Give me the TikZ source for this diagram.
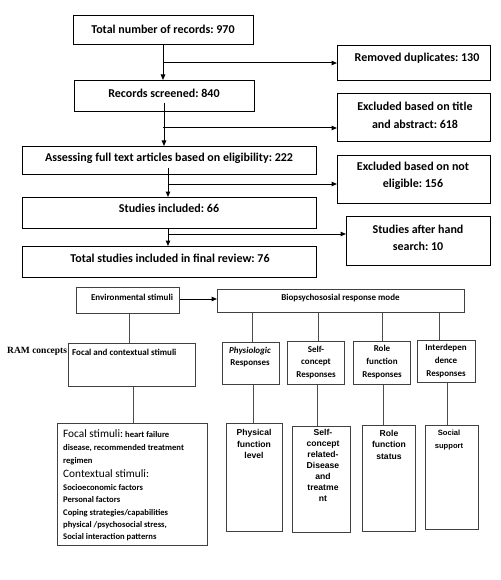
\documentclass[tikz,border=0pt]{standalone}
\usepackage{fontspec}
\setmainfont{Carlito}
\newfontfamily\arialf{Liberation Sans}
\newfontfamily\timesf{Liberation Serif}
\newcommand\fbigx{\fontsize{11.3}{12}\selectfont\mdseries}
\usetikzlibrary{arrows.meta,shadows}
\frenchspacing
\begin{document}
\begin{tikzpicture}[x=1pt,y=-1pt,
  box/.style={draw=black, line width=1pt, rectangle, inner sep=0pt, anchor=north west},
  rbox/.style={draw=black!75, line width=0.8pt, fill=white, rectangle, inner sep=0pt, anchor=north west,
     drop shadow={shadow xshift=1pt,shadow yshift=-1pt,fill=black!30,opacity=1}},
  ttop/.style={font=\fontsize{12}{17.5}\selectfont\bfseries, inner sep=0pt, align=center},
  tlow/.style={font=\fontsize{9}{12.7}\selectfont\bfseries, inner sep=0pt, align=center},
  tar/.style={font=\arialf\fontsize{8.6}{11.5}\selectfont\bfseries, inner sep=0pt, align=center},
  tfs/.style={font=\fontsize{8.6}{12}\selectfont\bfseries, inner sep=0pt, anchor=base west},
  arr/.style={draw=black, line width=1pt, -{Triangle[length=5.5pt,width=4.5pt]}},
  lnl/.style={draw=black!70, line width=0.9pt},
]
\useasboundingbox[fill=white] (0,0) rectangle (500,580);

% ---------- top flow ----------
\node[box, minimum width=180pt, minimum height=29pt] (a1) at (73,15) {};
\node[ttop] (a1t) at (163,29) {Total number of records: 970};
\node[box, minimum width=153pt, minimum height=35pt] (d1) at (337,45) {};
\node[ttop] (d1t) at (417,58) {Removed duplicates: 130};
\node[box, minimum width=180pt, minimum height=31pt] (rs) at (74,80) {};
\node[ttop] (rst) at (164,93) {Records screened: 840};
\node[box, minimum width=153pt, minimum height=48pt] (e1) at (337,93) {};
\node[ttop] (e1t) at (415,115.5) {Excluded based on title\\and abstract: 618};
\node[box, minimum width=294pt, minimum height=28pt] (as) at (22,146) {};
\node[ttop] (ast) at (169,158) {Assessing full text articles based on eligibility: 222};
\node[box, minimum width=153pt, minimum height=48pt] (e2) at (337,155) {};
\node[ttop] (e2t) at (413,176) {Excluded based on not\\eligible: 156};
\node[box, minimum width=294pt, minimum height=31pt] (si) at (22,197) {};
\node[ttop] (sit) at (169,208) {Studies included: 66};
\node[box, minimum width=144pt, minimum height=49pt] (hs) at (346,216) {};
\node[ttop] (hst) at (418,238) {Studies after hand\\search: 10};
\node[box, minimum width=294pt, minimum height=31pt] (tf) at (22,246) {};
\node[ttop] (tft) at (170,258) {Total studies included in final review: 76};

\coordinate (j1) at (163,63);
\coordinate (j2) at (163,128);
\coordinate (j3) at (168,184);
\coordinate (j4) at (168,234);
\coordinate (s2) at (164,103);
\coordinate (s3) at (168,168);

\draw[arr] (a1.south -| j1) -- (rs.north -| j1);
\draw[arr] (j1) -- (j1 -| d1.west);
\draw[arr] (s2) -- (as.north -| s2);
\draw[arr] (j2) -- (j2 -| e1.west);
\draw[arr] (s3) -- (si.north -| s3);
\draw[arr] (j3) -- (j3 -| e2.west);
\draw[arr] (si.south -| j4) -- (tf.north -| j4);
\draw[arr] (j4) -- (j4 -| hs.west);

% ---------- RAM model ----------
\node[rbox, minimum width=103pt, minimum height=26pt] (env) at (76,287) {};
\node[tlow] (envt) at (132,297) {Environmental stimuli};
\node[rbox, minimum width=247pt, minimum height=23pt] (bio) at (217,289) {};
\node[tlow] (biot) at (340.5,298) {Biopsychososial response mode};
\coordinate (y1) at (0,299);
\draw[arr] (env.east |- y1) -- (bio.west |- y1);

\node[font=\timesf\fontsize{9.5}{11}\selectfont\bfseries, inner sep=0pt, anchor=west] (ram) at (7,351) {RAM concepts};
\node[rbox, minimum width=127pt, minimum height=43pt] (fc) at (68,343) {};
\node[tlow, anchor=west] (fct) at (72,352) {Focal and contextual stimuli};

\node[rbox, minimum width=150pt, minimum height=122pt] (fs) at (57,423) {};
\node[tfs] (fs1) at (63,437) {{\fbigx Focal stimuli:} heart failure};
\node[tfs] (fs2) at (63,450) {disease, recommended treatment};
\node[tfs] (fs3) at (63,463) {regimen};
\node[tfs] (fs4) at (63,477) {\fbigx Contextual stimuli:};
\node[tfs] (fs5) at (63,490) {Socioeconomic factors};
\node[tfs] (fs6) at (63,502) {Personal factors};
\node[tfs] (fs7) at (63,515) {Coping strategies/capabilities};
\node[tfs] (fs8) at (63,527) {physical /psychosocial stress,};
\node[tfs] (fs9) at (63,539) {Social interaction patterns};

\node[rbox, minimum width=57pt, minimum height=42pt] (ph) at (222,342) {};
\node[tlow] (pht) at (250,357) {\itshape Physiologic\\Responses};
\node[rbox, minimum width=57pt, minimum height=43pt] (sc) at (287,341) {};
\node[tlow] (sct) at (316,362.5) {Self-\\concept\\Responses};
\node[rbox, minimum width=57pt, minimum height=43pt] (rf) at (353,341) {};
\node[tlow] (rft) at (382,362) {Role\\function\\Responses};
\node[rbox, minimum width=58pt, minimum height=42pt] (id) at (417,340) {};
\node[tlow] (idt) at (446,361) {Interdepen\\dence\\Responses};

\node[rbox, minimum width=56pt, minimum height=108pt] (pf) at (226,423) {};
\node[tar] (pft) at (254,444) {Physical\\function\\level};
\node[rbox, minimum width=58pt, minimum height=106pt] (scr) at (292,426) {};
\node[tar, font=\arialf\fontsize{8.6}{10.9}\selectfont\bfseries] (scrt) at (323,465.5) {Self-\\concept\\related-\\Disease\\and\\treatme\\nt};
\node[rbox, minimum width=53pt, minimum height=106pt] (rs2) at (362,425) {};
\node[tar] (rs2t) at (389,444.5) {Role\\function\\status};
\node[rbox, minimum width=53pt, minimum height=104pt] (ss) at (425,425) {};
\node[tar, font=\arialf\fontsize{7.6}{13}\selectfont\bfseries] (sst) at (449,440.5) {Social\\support};

\coordinate (x1) at (129,0);
\coordinate (x2) at (133,0);
\coordinate (x3) at (252,0);
\coordinate (x4) at (318,0);
\coordinate (x5) at (382,0);
\coordinate (x6) at (439,0);
\coordinate (x7) at (253,0);
\coordinate (x8) at (317,0);
\coordinate (x9) at (383,0);
\coordinate (x10) at (447,0);

\draw[lnl] (env.south -| x1) -- (fc.north -| x1);
\draw[lnl] (fc.south -| x2) -- (fs.north -| x2);
\draw[lnl] (bio.south -| x3) -- (ph.north -| x3);
\draw[lnl] (bio.south -| x4) -- (sc.north -| x4);
\draw[lnl] (bio.south -| x5) -- (rf.north -| x5);
\draw[lnl] (bio.south -| x6) -- (id.north -| x6);
\draw[lnl] (ph.south -| x7) -- (pf.north -| x7);
\draw[lnl] (sc.south -| x8) -- (scr.north -| x8);
\draw[lnl] (rf.south -| x9) -- (rs2.north -| x9);
\draw[lnl] (id.south -| x10) -- (ss.north -| x10);
\end{tikzpicture}
\end{document}
